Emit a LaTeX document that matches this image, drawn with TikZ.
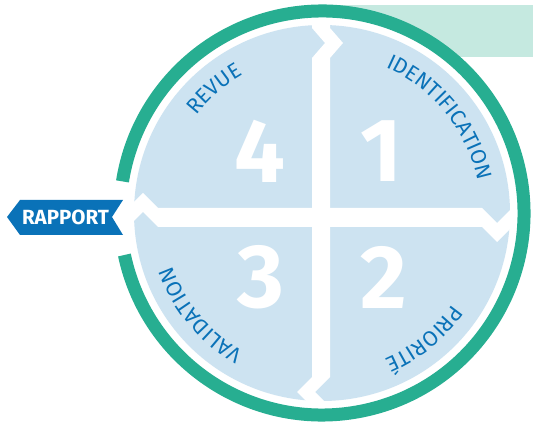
\documentclass[tikz,border=0pt]{standalone}
\usepackage{fontspec}
\newfontfamily\fira{Fira Sans}
\usetikzlibrary{calc,decorations.text}
\definecolor{ringgreen}{HTML}{27AE91}
\definecolor{mint}{HTML}{C5E9E0}
\definecolor{diskblue}{HTML}{CDE3F1}
\definecolor{txtblue}{HTML}{0A72B8}
\newcommand{\lblfont}{\fira\fontsize{21.5bp}{21.5bp}\selectfont\color{txtblue}}

\begin{document}
\begin{tikzpicture}[x=1bp,y=1bp,line width=0.5pt,
  digit/.style={inner sep=0pt,text=white,font=\fira\bfseries\fontsize{90bp}{90bp}\selectfont},
  curvelbl/.style={decorate,decoration={text along path,text align=center,text={|\lblfont|#1}}}]
  \useasboundingbox (0,0) rectangle (533,434);
  \coordinate (c) at (322,221);
  \fill[mint] (320,377) rectangle (533,429);
  \fill[white] (c) circle[radius=200];
  \fill[diskblue] (c) circle[radius=188];
  \fill[white] (312,12) -- (312,27) -- (297,42) -- (312,57) -- (312,376) -- (325,391)
    -- (312,406) -- (312,425) -- (330,425) -- (330,406) -- (343,391) -- (330,376)
    -- (330,57) -- (315,42) -- (330,27) -- (330,12) -- cycle;
  \fill[white] (120,207) -- (128,207) -- (143,222) -- (158,207) -- (482,207) -- (497,192)
    -- (512,207) -- (525,207) -- (525,226) -- (512,226) -- (497,211) -- (482,226)
    -- (158,226) -- (143,241) -- (128,226) -- (120,226) -- cycle;
  \draw[ringgreen,line width=13bp] ($(c)+(-168:202)$) arc[start angle=-168,end angle=171,radius=202];
  \foreach \d/\x/\y in {4/260/283,1/381/283,3/261/156.5,2/384/156.5}
    \node[digit] (n\d) at (\x,\y) {\d};
  \path[curvelbl=IDENTIFICATION] ($(c)+(109:159)$) arc[start angle=109,end angle=-31,radius=159];
  \path[curvelbl=PRIORITÉ] ($(c)+(19:159)$) arc[start angle=19,end angle=-121,radius=159];
  \path[curvelbl=VALIDATION] ($(c)+(290:159)$) arc[start angle=290,end angle=150,radius=159];
  \path[curvelbl=REVUE] ($(c)+(201:159)$) arc[start angle=201,end angle=61,radius=159];
  \fill[txtblue] (7,217) -- (20,234) -- (123,234) -- (112,217) -- (123,199) -- (20,199) -- cycle;
  \node[text=white,inner sep=0pt,font=\fira\bfseries\fontsize{20.5bp}{20.5bp}\selectfont] (rapport) at (65.5,217) {RAPPORT};
\end{tikzpicture}
\end{document}
